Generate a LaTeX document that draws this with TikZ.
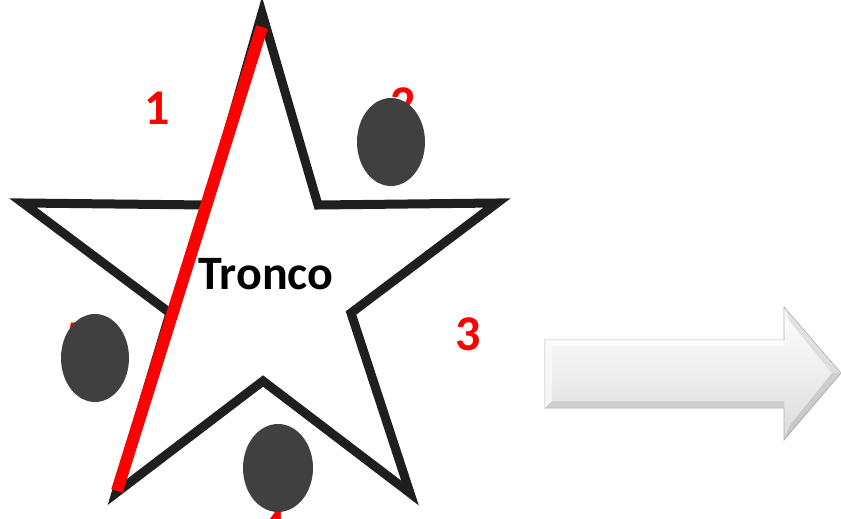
\documentclass[tikz,border=0pt]{standalone}
\usepackage{fontspec}
\setmainfont{Carlito}
\begin{document}
\begin{tikzpicture}[x=1pt,y=-1pt,
  numlbl/.style={text=red,font=\bfseries\fontsize{50}{50}\selectfont,inner sep=0pt},
  blob/.style={fill=black!75,draw=none},
  starline/.style={draw=black!88,line width=9pt,line join=miter,miter limit=10},
  redbar/.style={draw=red,line width=12pt}]
\useasboundingbox (0,0) rectangle (841,519);
% hidden labels
\node[numlbl] (n2) at (403,104) {2};
\node[numlbl] (n5) at (78,339) {5};
\node[numlbl] (n4) at (273,528) {4};
% star
\coordinate (t) at (262,13);
\coordinate (iur) at (318,205);
\coordinate (r) at (497,203);
\coordinate (ilr) at (351,313);
\coordinate (br) at (410,493);
\coordinate (ib) at (263,381);
\coordinate (bl) at (116,493);
\coordinate (ill) at (170,313);
\coordinate (l) at (23,203);
\coordinate (iul) at (207,205);
\draw[starline,fill=white] (t)--(iur)--(r)--(ilr)--(br)--(ib)--(bl)--(ill)--(l)--(iul)--cycle;
\node[font=\bfseries\fontsize{48}{48}\selectfont,inner sep=0pt] (tronco) at (266,274) {Tronco};
% red line
\coordinate (ra) at (262,27);
\coordinate (rb) at (117,491);
\draw[redbar] (ra)--(rb);
\node[numlbl] (n1) at (157,108) {1};
\node[numlbl] (n3) at (468,334) {3};
% ellipses
\fill[blob] (391,142) ellipse [x radius=34,y radius=44];
\fill[blob] (95,358) ellipse [x radius=34,y radius=44];
\fill[blob] (278,468) ellipse [x radius=35,y radius=44];
% arrow
\coordinate (a1) at (545,340);
\coordinate (a2) at (784,340);
\coordinate (a3) at (784,307);
\coordinate (a4) at (841,373);
\coordinate (a5) at (784,440);
\coordinate (a6) at (784,408);
\coordinate (a7) at (545,408);
\shade[top color=white,bottom color=black!14,draw=black!30,line width=0.8pt]
  (a1)--(a2)--(a3)--(a4)--(a5)--(a6)--(a7)--cycle;
\fill[white,opacity=0.7] (a1)--(a2)--(784,346)--(552,346)--cycle;
\fill[black!25,opacity=0.6] (a7)--(a6)--(784,401)--(552,401)--cycle;
\fill[white,opacity=0.6] (a1)--(552,346)--(552,401)--(a7)--cycle;
\fill[black!20,opacity=0.5] (a3)--(a4)--(832,373)--(790,322)--cycle;
\fill[black!30,opacity=0.5] (a5)--(a4)--(832,373)--(790,425)--cycle;
\end{tikzpicture}
\end{document}
